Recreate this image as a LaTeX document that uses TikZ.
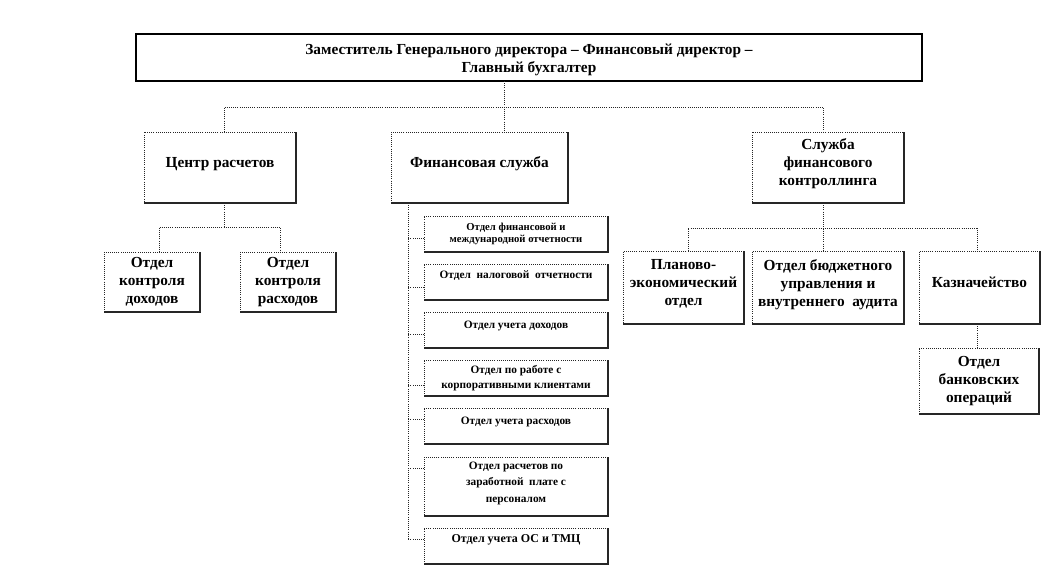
\documentclass[tikz,border=0pt]{standalone}
\usepackage{fontspec}
\setmainfont{Liberation Serif}
\newcommand{\pb}[4]{\parbox[c][#2][t]{#1}{\centering\vspace*{#3}#4\par}}
\tikzset{
  box/.style={draw=black!85, line width=0.6pt, densely dotted, inner sep=0pt, outer sep=0pt},
  topbox/.style={draw=black, line width=1.1pt, inner sep=0pt, outer sep=0pt},
  edge/.style={draw=black!85, line width=0.8pt},
  conn/.style={draw=black!85, line width=0.6pt, densely dotted},
  mfont/.style={font=\fontsize{11.5}{13.5}\selectfont\bfseries},
  sfont/.style={font=\fontsize{8.5}{9}\selectfont\bfseries},
}
\begin{document}
\begin{tikzpicture}[x=0.75pt,y=-0.75pt]
\useasboundingbox (0,0) rectangle (1064,567);
% top
\node[topbox,mfont] (top) at (529,57.5) {\pb{589.5pt}{35.25pt}{7.4pt}{Заместитель Генерального директора – Финансовый директор –\\Главный бухгалтер}};
% level 1
\node[box,mfont] (cr) at (220,167.5) {\pb{114pt}{53.25pt}{19.4pt}{Центр расчетов}};
\node[box,mfont] (fs) at (479.5,167.5) {\pb{132.75pt}{53.25pt}{18.7pt}{Финансовая служба}};
\node[box,mfont] (sk) at (828,167.5) {\pb{114pt}{53.25pt}{5.2pt}{Служба\\финансового\\контроллинга}};
% centre subtree
\node[box,mfont] (kd) at (152,282) {\pb{72pt}{45pt}{3.7pt}{Отдел\\контроля\\доходов}};
\node[box,mfont] (kr) at (288,282) {\pb{72pt}{45pt}{3.7pt}{Отдел\\контроля\\расходов}};
% control subtree
\node[box,mfont] (pe) at (683.5,287.5) {\pb{90.75pt}{54.75pt}{6.7pt}{Планово-\\экономический\\отдел}};
\node[box,mfont] (bu) at (828,287.5) {\pb{114pt}{54.75pt}{6.7pt}{Отдел бюджетного\\управления и\\внутреннего\ \ аудита}};
\node[box,mfont] (kz) at (979.5,287.5) {\pb{90.75pt}{54.75pt}{19.4pt}{Казначейство}};
\node[box,mfont] (bo) at (979,381) {\pb{90pt}{49.5pt}{5.9pt}{Отдел\\банковских\\операций}};
% finance list
\node[box,font=\fontsize{8}{9}\selectfont\bfseries] (f1) at (516,234) {\pb{138pt}{27pt}{5pt}{Отдел финансовой и\\международной отчетности}};
\node[box,sfont] (f2) at (516,282) {\pb{138pt}{27pt}{4.9pt}{Отдел\ \ налоговой\ \ отчетности}};
\node[box,sfont] (f3) at (516,330) {\pb{138pt}{27pt}{6.4pt}{Отдел учета доходов}};
\node[box,font=\fontsize{8.5}{11.25}\selectfont\bfseries] (f4) at (516,378) {\pb{138pt}{27pt}{4.1pt}{Отдел по работе с\\корпоративными клиентами}};
\node[box,sfont] (f5) at (516,426) {\pb{138pt}{27pt}{6.4pt}{Отдел учета расходов}};
\node[box,font=\fontsize{8.5}{12.4}\selectfont\bfseries] (f6) at (516,486.5) {\pb{138pt}{44.25pt}{3.4pt}{Отдел расчетов по\\заработной\ \ плате с\\персоналом}};
\node[box,font=\fontsize{9}{10}\selectfont\bfseries] (f7) at (516,546) {\pb{138pt}{27pt}{4.9pt}{Отдел учета ОС и ТМЦ}};
% solid right/bottom edges
\foreach \n in {cr,fs,sk,kd,kr,pe,bu,kz,bo,f1,f2,f3,f4,f5,f6,f7}
  \draw[edge] (\n.north east) -- (\n.south east) -- (\n.south west);
% connectors level 1
\coordinate (t) at (504,107);
\coordinate (bL) at (224,107);
\coordinate (bR) at (823,107);
\draw[conn] (t |- top.south) -- (t |- fs.north);
\draw[conn] (bL |- cr.north) -- (bL) -- (bR) -- (bR |- sk.north);
% centre subtree
\coordinate (c0) at (224,227);
\coordinate (cL) at (159,227);
\coordinate (cR) at (280,227);
\draw[conn] (c0 |- cr.south) -- (c0);
\draw[conn] (cL |- kd.north) -- (cL) -- (cR) -- (cR |- kr.north);
% finance list
\coordinate (sEnd) at (408,539);
\draw[conn] (sEnd |- fs.south) -- (sEnd);
\foreach \n/\d in {f1/-3pt,f2/-3.75pt,f3/-3pt,f4/-5.25pt,f5/5.25pt,f6/13.9pt,f7/5.25pt}
  \draw[conn] ([yshift=\d]\n.west) -- ++(-16,0);
% control subtree
\coordinate (k0) at (823,228);
\coordinate (kL) at (688,228);
\coordinate (kR) at (977,228);
\draw[conn] (k0 |- sk.south) -- (k0) -- (k0 |- bu.north);
\draw[conn] (kL |- pe.north) -- (kL) -- (kR) -- (kR |- kz.north);
\draw[conn] (kR |- kz.south) -- (kR |- bo.north);
\end{tikzpicture}
\end{document}
